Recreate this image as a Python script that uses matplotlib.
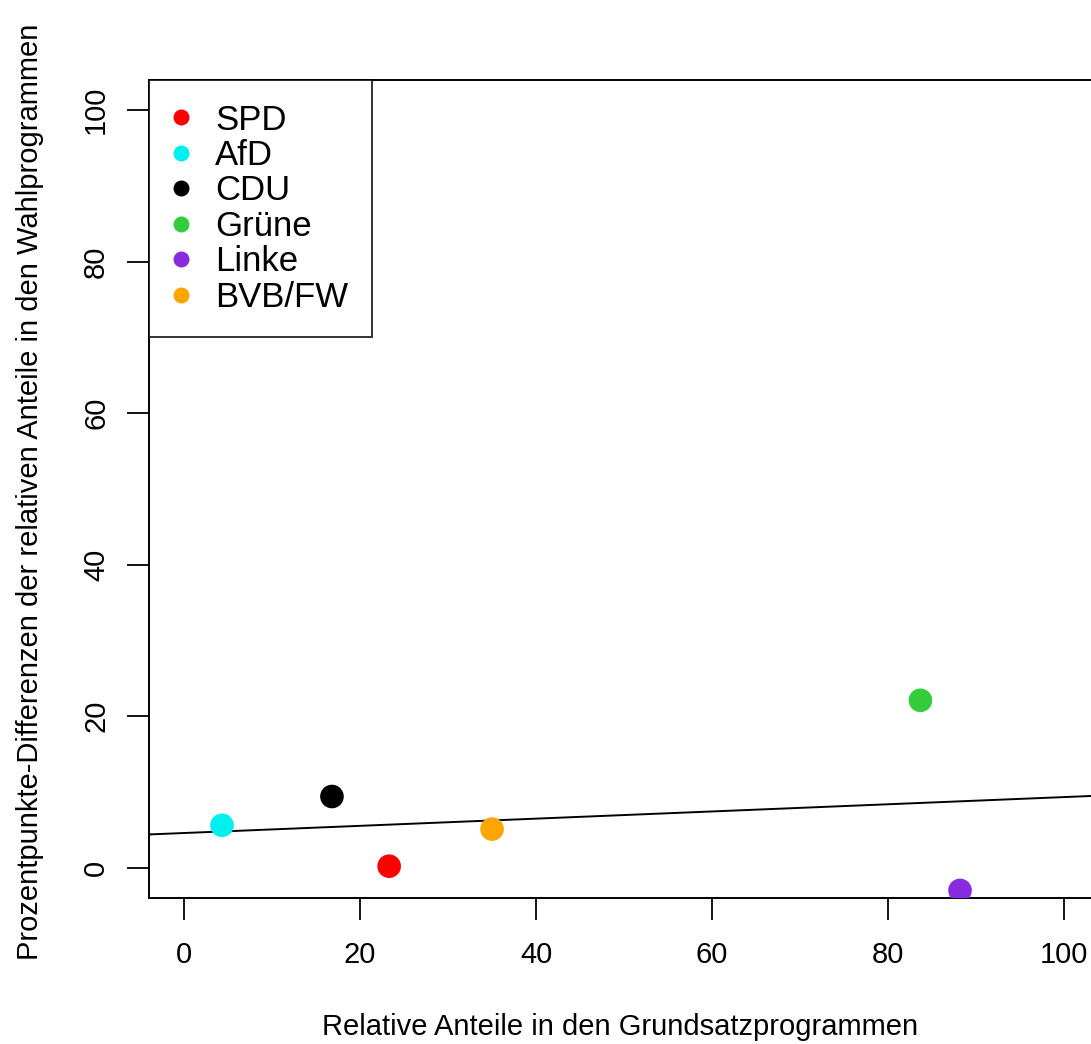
import numpy as np
import matplotlib
matplotlib.use("Agg")
import matplotlib.pyplot as plt
from matplotlib.lines import Line2D

plt.rcParams['font.family'] = ['Liberation Sans', 'DejaVu Sans']

# parties, x = Grundsatzprogramme, y = Differenz Wahlprogramme
parties = ['SPD', 'AfD', 'CDU', 'Grüne', 'Linke', 'BVB/FW']
x_grund = [23.3, 4.3, 16.8, 83.7, 88.2, 35.0]
y_diff = [0.2, 5.6, 9.4, 22.1, -3.0, 5.1]
colors = ['#ff0000', '#00f0f0', '#000000', '#33cc3a', '#8a2be2', '#ffa500']
ticks = [0, 20, 40, 60, 80, 100]

fig = plt.figure(figsize=(10.91, 10.44), dpi=100)
# right edge of the box falls just outside the picture, as in the reference
ax = fig.add_axes([149/1091, 1 - 898/1044, 950/1091, 818/1044])

ax.scatter(x_grund, y_diff, s=17**2, c=colors, marker='o', linewidths=0, zorder=3)

# regression line across the whole box
slope, icpt = np.polyfit(x_grund, y_diff, 1)
ax.axline((0, icpt), slope=slope, color='black', lw=1.4, zorder=2)

ax.set_xlim(-4, 104)
ax.set_ylim(-4, 104)
ax.set_xticks(ticks)
ax.set_yticks(ticks)
ax.set_xticklabels([str(t) for t in ticks], fontsize=21)
ax.set_yticklabels([str(t) for t in ticks], fontsize=21, rotation=90, va='center')
ax.tick_params(length=16, width=1.3, pad=15)
ax.tick_params(axis='y', pad=12)
for sp in ax.spines.values():
    sp.set_linewidth(1.4)
ax.spines['right'].set_visible(False)

fig.text(620/1091, 1 - 1027/1044, 'Relative Anteile in den Grundsatzprogrammen',
         fontsize=21, ha='center', va='center')
fig.text(30/1091, 1 - 492/1044,
         'Prozentpunkte-Differenzen der relativen Anteile in den Wahlprogrammen',
         fontsize=21, ha='center', va='center', rotation=90)

handles = [Line2D([], [], marker='o', ls='', color=c, markersize=11.5, markeredgewidth=0)
           for c in colors]
leg = ax.legend(handles, parties, loc='upper left', fontsize=25, frameon=True,
                fancybox=False, borderaxespad=0, labelspacing=0.07,
                handlelength=0.5, handletextpad=0.72, borderpad=0.68)
leg.get_frame().set_edgecolor('black')
leg.get_frame().set_linewidth(1.4)

fig.savefig('out.png', dpi=100)
